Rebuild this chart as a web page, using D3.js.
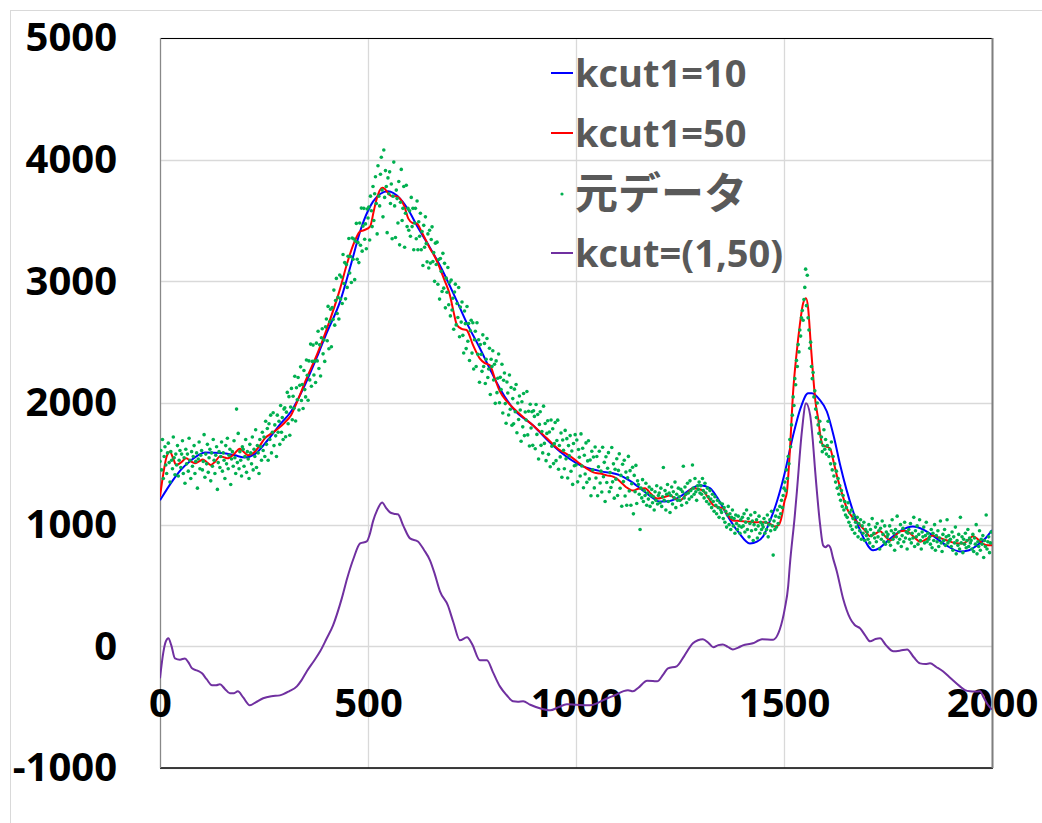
<!DOCTYPE html>
<html><head><meta charset="utf-8">
<script src="https://cdn.jsdelivr.net/npm/d3@7"></script>
<style>
html,body{margin:0;padding:0;background:#fff;}
svg{display:block;}
</style></head>
<body>
<svg id="chart" width="1042" height="823"></svg>
<script>
// ---------- data ----------
const xTicks = [0, 500, 1000, 1500, 2000];
const yTicks = [-1000, 0, 1000, 2000, 3000, 4000, 5000];
const seriesNames = ["kcut1=10", "kcut1=50", "元データ", "kcut=(1,50)"];

// kcut1=10 (x, value)
const blueX = [0,30,50,75,108,150,180,204,228,260,290,315,348,380,400,433,460,481,500,512,530,548,577,600,617,645,673,714,740,769,793,817,850,897,930,962,1010,1058,1106,1130,1154,1180,1202,1225,1250,1275,1298,1322,1340,1363,1390,1418,1435,1450,1465,1483,1500,1522,1540,1558,1567,1585,1603,1620,1635,1650,1666,1690,1714,1730,1747,1780,1810,1835,1858,1890,1923,1945,1964,1985,2000];
const blueY = [1200,1360,1450,1530,1594,1590,1570,1553,1580,1700,1830,1930,2145,2400,2570,2835,3150,3410,3580,3655,3720,3740,3680,3570,3460,3300,3130,2835,2640,2450,2280,2120,1950,1815,1700,1600,1490,1440,1405,1360,1300,1230,1190,1195,1230,1290,1325,1300,1220,1080,940,845,860,905,1020,1190,1400,1735,1960,2080,2080,2030,1930,1720,1490,1290,1110,900,790,810,860,950,985,960,910,830,780,790,830,890,955];

// kcut1=50 (x, value)
const redX = [0,8,16,24,32,39,50,63,74,84,94,103,112,122,133,144,153,163,178,192,201,211,220,228,240,252,268,284,300,315,332,349,380,400,433,450,464,472,481,490,505,514,521,534,540,545,551,557,567,577,587,597,607,617,630,649,661,673,685,697,705,714,725,737,752,769,780,793,805,817,835,858,878,897,930,962,978,993,1010,1026,1042,1058,1074,1089,1097,1106,1120,1137,1150,1166,1180,1195,1210,1226,1238,1250,1265,1281,1293,1305,1318,1330,1342,1353,1365,1377,1394,1411,1430,1450,1468,1478,1488,1495,1501,1507,1514,1522,1530,1538,1546,1553,1558,1564,1570,1576,1582,1588,1594,1603,1611,1619,1627,1640,1651,1665,1683,1695,1707,1719,1731,1743,1755,1767,1779,1791,1803,1815,1827,1842,1858,1875,1892,1910,1930,1942,1954,1966,1978,1990,2000];
const redY = [1230,1420,1560,1600,1540,1490,1510,1545,1520,1505,1520,1535,1515,1490,1520,1560,1555,1545,1580,1625,1600,1570,1580,1600,1650,1710,1750,1790,1840,1900,2030,2175,2420,2600,2940,3150,3295,3360,3410,3420,3450,3580,3680,3770,3760,3740,3715,3700,3700,3680,3620,3515,3480,3475,3400,3270,3200,3105,3000,2885,2760,2640,2610,2600,2480,2365,2330,2310,2200,2095,2010,1930,1870,1815,1710,1610,1580,1545,1500,1460,1430,1420,1405,1395,1380,1355,1310,1280,1295,1300,1255,1215,1225,1240,1215,1200,1250,1300,1295,1280,1220,1160,1145,1135,1080,1035,1030,1025,1020,1020,1005,985,1000,1075,1190,1270,1600,2095,2400,2640,2820,2860,2780,2500,2225,2000,1875,1720,1650,1640,1625,1520,1405,1250,1135,1060,995,950,905,925,945,905,870,905,945,950,930,890,860,880,910,890,870,850,845,870,905,880,845,830,830];

// 元データ : raw samples, one every 2 units of x starting at 0
const rawStep = 2;
const rawY = [
1520,1610,1450,1700,1380,1560,1640,1490,1420,1590,1670,1510,1350,1600,1530,1460,1720,1550,1410,1580,1490,1650,1400,1530,1610,
1470,1580,1690,1420,1550,1340,1620,1500,1580,1440,1710,1530,1380,1600,1480,1560,1650,1420,1520,1590,1300,1540,1680,1460,1570,
1610,1450,1520,1740,1390,1580,1500,1660,1430,1550,1620,1360,1590,1480,1700,1530,1420,1570,1640,1290,1510,1600,1470,1560,1680,
1440,1590,1530,1380,1650,1500,1710,1460,1570,1620,1330,1540,1600,1480,1690,1550,1420,1950,1510,1750,1460,1600,1530,1400,1640,
1620,1480,1560,1700,1430,1600,1540,1380,1660,1590,1500,1720,1450,1620,1560,1780,1470,1650,1590,1420,1700,1640,1530,1760,1610,
1720,1560,1850,1660,1790,1530,1830,1700,1900,1590,1760,1920,1650,1820,1730,1560,1900,1760,1850,1660,1980,1760,1880,1700,1950,
1960,1722,1925,2087,1830,2052,1735,1967,2120,1862,2055,1957,2220,1852,2125,2027,2210,1942,2145,2297,2020,2152,1955,2267,2110,
2050,2354,2228,2022,2346,2190,2484,2138,2342,2476,2230,2344,2168,2492,2346,2590,2284,2478,2222,2536,2610,2404,2518,2342,2626,
2690,2512,2794,2446,2668,2770,2462,2784,2686,2928,2640,2842,3024,2736,2868,2690,3052,2854,3036,2818,3220,2982,3154,2856,3138,
2950,3206,3352,3068,3204,2990,3356,3182,3348,3014,3330,3476,3182,3318,3154,3480,3296,3602,3248,3454,3600,3346,3472,3268,3594,
3520,3610,3340,3700,3580,3450,3780,3500,3720,3860,3640,3390,3950,3700,3620,3880,4020,3750,3530,4080,3690,3910,3780,3400,3850,
3720,3900,3640,3800,3350,3700,3980,3620,3360,3750,3680,3480,3820,3300,3650,3920,3500,3600,3780,3280,3560,3790,3450,3600,3420,
3580,3370,3690,3450,3600,3260,3480,3600,3350,3660,3260,3490,3370,3560,3260,3410,3130,3460,3280,3530,3310,3160,3390,3110,3420,
3150,3344,3448,3162,3236,3000,3314,3138,3322,2976,3180,2854,3188,3082,2916,3230,2944,3148,2782,3026,2910,3114,2808,2992,2716,
3010,2765,2861,2606,2912,2977,2642,2818,2703,2949,2544,2789,2665,2830,2556,2411,2756,2652,2447,2793,2508,2653,2349,2594,2680,
2410,2660,2280,2520,2590,2300,2660,2400,2520,2170,2480,2400,2260,2560,2300,2490,2160,2360,2530,2210,2280,2450,2070,2360,2300,
2430,2189,2318,1997,2346,2085,2204,2403,2002,2211,2110,2319,1918,2187,2246,1995,1834,2173,2082,1901,2230,1949,2128,1817,2036,
1830,2114,1928,2152,1756,2000,1864,2058,1942,1686,2010,1804,2078,1732,1926,1860,2094,1738,1932,1646,1990,1794,1928,1652,1936,
1890,1624,1988,1742,1906,1540,1824,1928,1652,1766,1590,1974,1668,1832,1526,1750,1854,1578,1762,1476,1860,1644,1788,1502,1666,
1840,1526,1692,1859,1455,1651,1557,1754,1390,1696,1612,1459,1775,1541,1707,1384,1650,1566,1732,1439,1605,1331,1667,1484,1740,
1490,1696,1352,1618,1554,1400,1746,1482,1628,1304,1570,1416,1672,1348,1524,1690,1376,1532,1238,1604,1450,1556,1302,1638,1384,
1560,1238,1476,1604,1342,1440,1268,1636,1394,1512,1190,1558,1346,1464,1592,1270,1428,1306,1634,1352,1500,1218,1456,1374,1542,
1240,1446,1582,1299,1405,1151,1497,1354,1530,1236,1432,1159,1385,1561,1277,1444,1160,1336,1472,1089,1405,1271,1487,1174,1360,
1330,1250,960,1300,1220,1370,1190,1280,1240,1340,1160,1260,1210,1310,1150,1240,1290,1180,1230,1120,1270,1200,1320,1170,1240,
1260,1180,1300,1150,1230,1470,1200,1280,1120,1250,1330,1190,1260,1100,1240,1310,1170,1270,1220,1350,1140,1250,1200,1300,1230,
1200,1290,1160,1270,1480,1220,1310,1250,1180,1340,1260,1210,1360,1280,1230,1490,1300,1250,1380,1270,1200,1320,1290,1350,1260,
1320,1250,1380,1280,1220,1340,1260,1190,1300,1230,1170,1280,1210,1140,1250,1190,1110,1230,1160,1090,1200,1140,1060,1180,1120,
1100,1170,1050,1140,1020,1110,980,1080,1150,1000,1090,960,1060,1120,990,1050,930,1080,1010,960,1070,990,930,1040,980,
1060,990,1090,940,1020,1120,960,1050,900,1010,1080,950,1030,870,1000,1100,960,1040,890,990,1070,930,1020,960,1000,
980,1050,930,1020,960,1080,900,1000,1040,950,1110,990,750,1030,960,1070,980,1120,1010,1060,1150,1090,1200,1140,1240,
1300,1350,1280,1450,1380,1560,1500,1700,1640,1820,1900,2050,1980,2200,2150,2350,2300,2480,2420,2600,2550,2700,2760,2680,2850,
2950,3100,2800,3050,2700,2600,2450,2500,2300,2200,2250,2050,2100,1950,1880,2000,1820,1750,1850,1680,1720,1600,1650,1780,1620,
1700,1580,1650,1850,1560,1620,1500,1680,1450,1560,1400,1500,1350,1440,1300,1380,1250,1320,1200,1280,1150,1240,1120,1190,1080,
1140,1060,1180,1020,1100,990,1120,960,1050,1080,930,1020,980,1060,900,1010,950,1040,880,990,930,1020,870,960,910,
940,880,1000,850,960,910,1050,820,930,890,980,860,1010,900,950,800,970,880,1030,920,860,990,840,940,900,
920,860,990,830,950,1040,880,930,790,960,900,1070,850,940,880,1000,820,910,970,860,1020,890,940,800,930,
960,880,1010,850,930,890,1060,820,950,900,990,840,920,1040,870,800,940,900,980,850,910,1020,860,930,880,
900,840,960,810,930,870,1000,790,910,860,950,820,890,1030,850,780,920,870,960,830,900,1040,850,910,870,
880,820,940,790,900,850,980,760,870,830,920,800,1060,850,900,770,880,840,930,810,870,960,820,890,850,
870,800,920,780,890,840,1000,760,860,820,950,790,880,840,910,730,870,820,1080,800,860,900,770,850,940
];

// kcut=(1,50) (x, value)
const purpleX = [0,8,14,20,27,36,48,60,68,77,90,101,112,125,135,144,156,168,178,187,200,216,230,248,268,288,310,329,340,353,370,385,400,416,437,450,465,481,497,505,512,522,534,543,553,562,572,585,601,620,635,649,660,673,692,705,721,738,750,769,786,800,817,833,849,860,873,890,913,938,958,978,1000,1034,1055,1075,1095,1113,1125,1137,1150,1171,1185,1195,1210,1221,1242,1260,1281,1293,1305,1318,1330,1342,1353,1365,1377,1390,1401,1425,1440,1447,1474,1484,1490,1502,1510,1514,1526,1531,1543,1553,1563,1569,1575,1587,1594,1600,1606,1611,1618,1627,1642,1659,1670,1683,1695,1707,1720,1731,1745,1763,1780,1796,1812,1827,1840,1851,1866,1882,1900,1923,1935,1947,1960,1971,1980,1990,2000];
const purpleY = [-263,-50,40,66,10,-99,-110,-99,-130,-181,-200,-222,-270,-320,-320,-312,-350,-386,-385,-370,-420,-485,-460,-427,-410,-403,-370,-329,-280,-205,-120,-41,60,173,394,560,720,846,862,930,1027,1120,1183,1140,1101,1090,1085,990,887,862,790,707,600,452,337,200,49,74,20,-115,-115,-210,-329,-400,-452,-455,-452,-480,-509,-526,-500,-476,-480,-485,-460,-427,-400,-370,-360,-370,-340,-283,-285,-288,-230,-181,-164,-80,25,50,58,30,-8,10,16,-5,-25,-10,8,25,50,58,55,90,140,312,493,666,1077,1274,1767,1997,1898,1700,1438,994,830,815,830,815,723,616,394,230,175,148,90,41,60,66,10,-41,-35,-25,-90,-140,-145,-140,-170,-205,-260,-329,-360,-370,-372,-370,-420,-480,-520];

// ---------- layout ----------
const svg = d3.select("#chart");
const W = 1042, H = 823;
const plot = {left:160, right:992, top:38, bottom:768};
const x = d3.scaleLinear().domain([0,2000]).range([plot.left, plot.right]);
const y = d3.scaleLinear().domain([-1000,5000]).range([plot.bottom, plot.top]);

// outer chart border
svg.append("rect").attr("x",10.5).attr("y",10.5).attr("width",W).attr("height",H)
  .attr("fill","#fff").attr("stroke","#d9d9d9").attr("stroke-width",1);

// gridlines
const grid = svg.append("g");
grid.selectAll("line.h").data(yTicks).enter().append("line")
  .attr("x1",plot.left).attr("x2",plot.right)
  .attr("y1",d=>Math.round(y(d))+0.5).attr("y2",d=>Math.round(y(d))+0.5)
  .attr("stroke","#d9d9d9").attr("stroke-width",1.3);
grid.selectAll("line.v").data(xTicks).enter().append("line")
  .attr("y1",plot.top).attr("y2",plot.bottom)
  .attr("x1",d=>Math.round(x(d))+0.5).attr("x2",d=>Math.round(x(d))+0.5)
  .attr("stroke","#d9d9d9").attr("stroke-width",1.3);

// plot borders
svg.append("line").attr("x1",plot.left).attr("x2",plot.right).attr("y1",plot.top+0.5).attr("y2",plot.top+0.5).attr("stroke","#000").attr("stroke-width",1.2);
svg.append("line").attr("x1",plot.left).attr("x2",plot.right+1).attr("y1",plot.bottom).attr("y2",plot.bottom).attr("stroke","#000").attr("stroke-width",1.5);
svg.append("line").attr("x1",plot.left+0.5).attr("x2",plot.left+0.5).attr("y1",plot.top).attr("y2",plot.bottom).attr("stroke","#888").attr("stroke-width",1.2);
svg.append("line").attr("x1",plot.right+0.5).attr("x2",plot.right+0.5).attr("y1",plot.top).attr("y2",plot.bottom).attr("stroke","#7f7f7f").attr("stroke-width",2);

// axes (labels only)
const fontFam = "'Open Sans','Noto Sans','DejaVu Sans',sans-serif";
const yAxis = svg.append("g").attr("transform",`translate(${plot.left},0)`)
  .call(d3.axisLeft(y).tickValues(yTicks).tickSize(0).tickPadding(43).tickFormat(d=>String(d)));
yAxis.select(".domain").remove();
yAxis.selectAll("text").attr("font-family",fontFam).attr("font-weight","700")
  .attr("font-size","40px").attr("fill","#000");

const xAxis = svg.append("g").attr("transform",`translate(0,${y(0)})`)
  .call(d3.axisBottom(x).tickValues(xTicks).tickSize(0).tickPadding(42).tickFormat(d=>String(d)));
xAxis.select(".domain").remove();
xAxis.selectAll("text").attr("font-family",fontFam).attr("font-weight","700")
  .attr("font-size","40px").attr("fill","#000");

// clip
svg.append("clipPath").attr("id","clip").append("rect")
  .attr("x",plot.left).attr("y",plot.top).attr("width",plot.right-plot.left).attr("height",plot.bottom-plot.top);
const g = svg.append("g").attr("clip-path","url(#clip)");

const line = d3.line().x(d=>x(d[0])).y(d=>y(d[1])).curve(d3.curveMonotoneX);
const zip = (xs,ys)=>xs.map((v,i)=>[v,ys[i]]);

g.append("path").datum(zip(blueX,blueY)).attr("d",line).attr("fill","none").attr("stroke","#0000ff").attr("stroke-width",2);
g.append("path").datum(zip(redX,redY)).attr("d",line).attr("fill","none").attr("stroke","#ff0000").attr("stroke-width",2);

const rawData = rawY.map((v,i)=>[i*rawStep, v]);
g.selectAll("circle.raw").data(rawData).enter().append("circle")
  .attr("cx",d=>x(d[0])).attr("cy",d=>y(d[1])).attr("r",1.8).attr("fill","#00b050");

g.append("path").datum(zip(purpleX,purpleY)).attr("d",line).attr("fill","none").attr("stroke","#7030a0").attr("stroke-width",2);

// legend
const legend = svg.append("g");
const legItems = [
  {name:seriesNames[0], color:"#0000ff", type:"line", cy:73, size:38, font:fontFam},
  {name:seriesNames[1], color:"#ff0000", type:"line", cy:133, size:38, font:fontFam},
  {name:seriesNames[2], color:"#00b050", type:"dot", cy:194, size:43, font:"'Noto Sans CJK JP','Noto Sans',sans-serif"},
  {name:seriesNames[3], color:"#7030a0", type:"line", cy:253, size:38, font:fontFam}
];
legItems.forEach(it=>{
  if(it.type==="line"){
    legend.append("line").attr("x1",551).attr("x2",573).attr("y1",it.cy).attr("y2",it.cy)
      .attr("stroke",it.color).attr("stroke-width",2);
  } else {
    legend.append("circle").attr("cx",562).attr("cy",it.cy).attr("r",1.6).attr("fill",it.color);
  }
  legend.append("text").attr("x",575).attr("y",it.cy).attr("dy","0.36em")
    .attr("font-family",it.font).attr("font-weight","700").attr("font-size",it.size+"px")
    .attr("fill","#595959").text(it.name);
});
</script>
</body></html>
